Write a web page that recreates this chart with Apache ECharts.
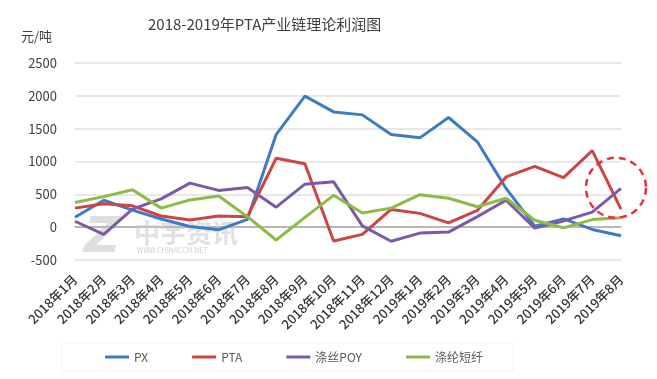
<!DOCTYPE html>
<html><head><meta charset="utf-8">
<script src="https://cdn.jsdelivr.net/npm/echarts@6/dist/echarts.min.js"></script>
<style>html,body{margin:0;padding:0;background:#fff}#c{width:657px;height:379px}</style>
</head><body><div id="c"></div>
<script>
const categories = ['2018年1月','2018年2月','2018年3月','2018年4月','2018年5月','2018年6月','2018年7月','2018年8月','2018年9月','2018年10月','2018年11月','2018年12月','2019年1月','2019年2月','2019年3月','2019年4月','2019年5月','2019年6月','2019年7月','2019年8月'];
const pxValues  = [150, 410, 260, 125, 10, -40, 120, 1410, 1995, 1755, 1710, 1410, 1360, 1670, 1300, 590, 15, 125, -35, -130];
const ptaValues = [290, 355, 325, 170, 110, 170, 160, 1050, 965, -210, -110, 270, 210, 65, 255, 765, 925, 755, 1165, 275];
const poyValues = [90, -110, 275, 430, 670, 560, 605, 305, 655, 690, 20, -215, -90, -75, 160, 410, -15, 95, 230, 590];
const psfValues = [375, 465, 570, 290, 415, 475, 160, -195, 150, 485, 215, 290, 495, 440, 310, 440, 105, -10, 115, 145];
const yTicks = {min: -500, max: 2500, interval: 500};

const font = '"Microsoft YaHei","Noto Sans CJK SC",sans-serif';
const chart = echarts.init(document.getElementById('c'));
function line(name, data, color) {
  return {name, type: 'line', data, symbol: 'none', smooth: false,
    lineStyle: {width: 3, color}, itemStyle: {color}, z: 3};
}
chart.setOption({
  animation: false,
  title: {text: '2018-2019年PTA产业链理论利润图', left: 143, top: 12,
    textStyle: {fontSize: 15, fontWeight: 'normal', color: '#404040', fontFamily: font}},
  grid: {left: 75, right: 36, top: 63, bottom: 119},
  legend: {left: 62, top: 343, padding: [8, 30, 8, 43], itemGap: 44, itemWidth: 24, itemHeight: 3,
    borderColor: '#f3f3f3', borderWidth: 1,
    icon: 'rect', textStyle: {fontSize: 12, color: '#595959', fontFamily: font},
    data: ['PX', 'PTA', '涤丝POY', '涤纶短纤']},
  xAxis: {type: 'category', data: categories, boundaryGap: false,
    axisLine: {lineStyle: {color: '#a6a6a6', width: 1.5}}, axisTick: {show: false},
    axisLabel: {rotate: 45, interval: 0, fontSize: 13, fontWeight: 500, color: '#333333', margin: 17, fontFamily: font}},
  yAxis: {type: 'value', min: yTicks.min, max: yTicks.max, interval: yTicks.interval,
    name: '元/吨', nameLocation: 'end', nameGap: 20,
    nameTextStyle: {fontSize: 13, color: '#404040', align: 'right', padding: [0, 23, 0, 0], fontFamily: font},
    axisLine: {show: false}, axisTick: {show: false},
    axisLabel: {fontSize: 13, color: '#404040', margin: 18, fontFamily: font, formatter: v => String(v)},
    splitLine: {lineStyle: {color: '#e0e0e0', width: 1.5}}},
  series: [
    line('PX', pxValues, '#3d7cc4'),
    line('PTA', ptaValues, '#cc4444'),
    line('涤丝POY', poyValues, '#7b5ba6'),
    line('涤纶短纤', psfValues, '#8dbb45')
  ]
});
const c = chart.convertToPixel({xAxisIndex: 0, yAxisIndex: 0}, [categories.length - 1, 0]);
const cy = chart.convertToPixel({yAxisIndex: 0}, 600);
chart.setOption({graphic: [
  {type: 'text', left: 84, top: 214, z: 1, style: {text: 'Z', fontSize: 50, fontWeight: 'bold', fontStyle: 'italic', fill: 'rgba(195,195,195,0.55)', fontFamily: 'DejaVu Sans'}},
  {type: 'text', left: 134, top: 220, z: 1, style: {text: '中宇资讯', fontSize: 26, fontWeight: 'bold', fill: 'rgba(200,200,200,0.55)', fontFamily: font}},
  {type: 'text', left: 137, top: 247, z: 1, style: {text: 'WWW.CHINACCM.NET', fontSize: 7, fill: 'rgba(185,185,185,0.7)', fontFamily: font}},
  {type: 'circle', shape: {cx: c[0] - 5, cy: cy, r: 30}, z: 10,
    style: {fill: 'none', stroke: '#e8313a', lineWidth: 2.5, lineDash: [7, 5]}}
]});
</script></body></html>
